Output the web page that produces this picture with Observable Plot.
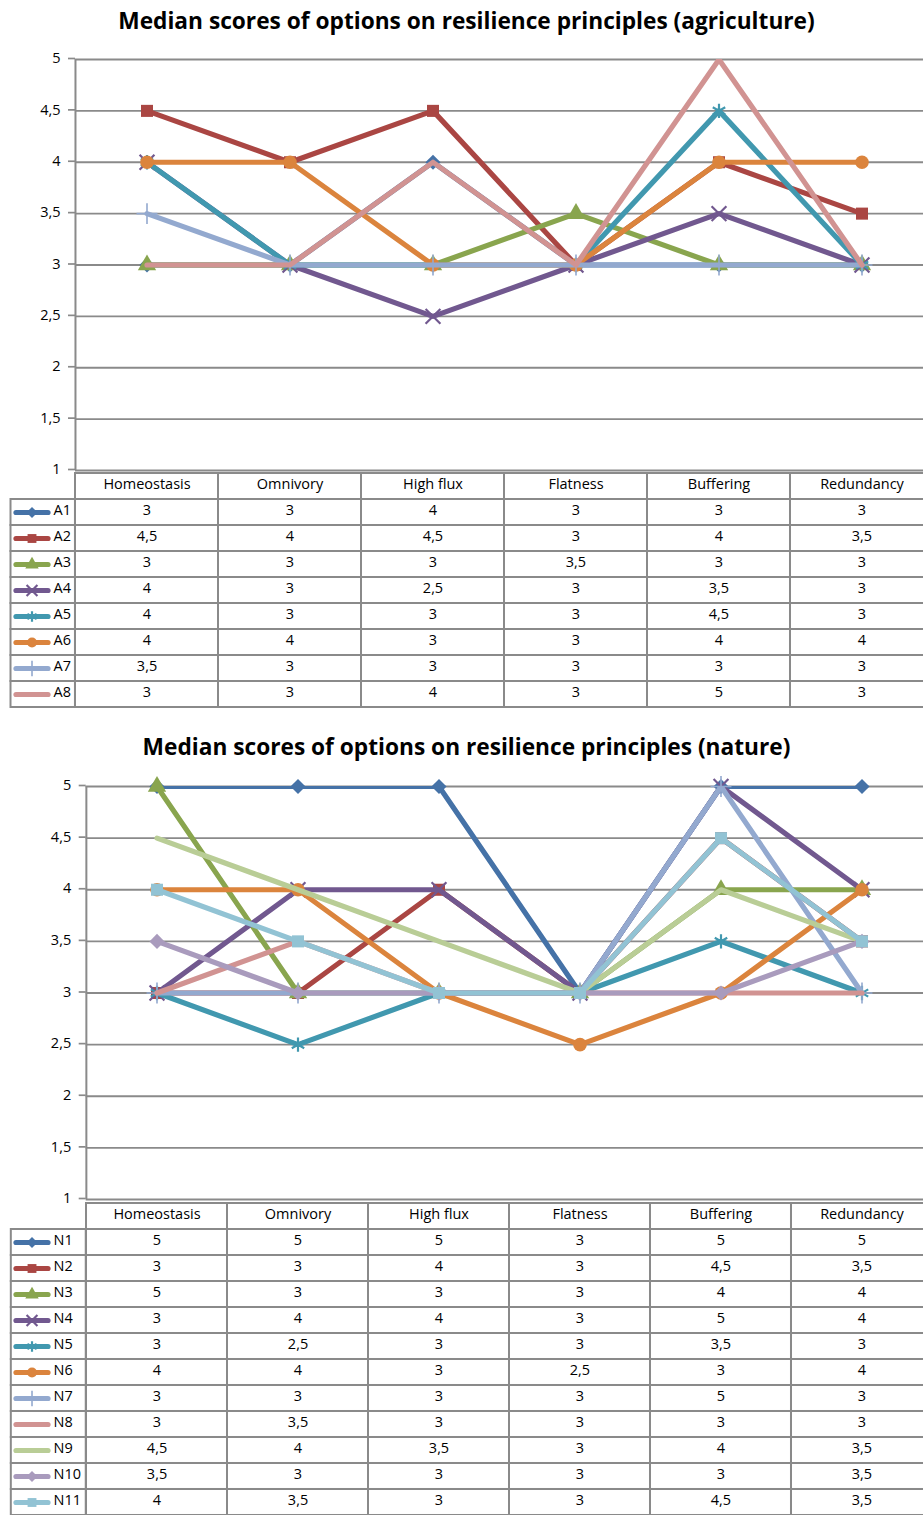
<!DOCTYPE html>
<html>
<head>
<meta charset="utf-8">
<script src="https://cdn.jsdelivr.net/npm/d3@7"></script>
<script src="https://cdn.jsdelivr.net/npm/@observablehq/plot@0.6"></script>
<style>
  html, body { margin: 0; padding: 0; background: #fff; overflow: hidden; }
  #root { position: relative; width: 923px; height: 1515px; overflow: hidden; background: #fff; font-family: "Open Sans", sans-serif; }
  .title { position: absolute; left: 0; width: 933px; height: 30px; line-height: 30px; text-align: center; font-weight: bold; font-size: 22.7px; color: #000; white-space: nowrap; }
  .abs { position: absolute; left: 0; }
</style>
</head>
<body>
<div id="root"></div>
<script>
// ---------- data ----------
const categories = ["Homeostasis", "Omnivory", "High flux", "Flatness", "Buffering", "Redundancy"];
const yTicks = [1, 1.5, 2, 2.5, 3, 3.5, 4, 4.5, 5];

const agriNames = ["A1", "A2", "A3", "A4", "A5", "A6", "A7", "A8"];
const A1 = [3, 3, 4, 3, 3, 3];
const A2 = [4.5, 4, 4.5, 3, 4, 3.5];
const A3 = [3, 3, 3, 3.5, 3, 3];
const A4 = [4, 3, 2.5, 3, 3.5, 3];
const A5 = [4, 3, 3, 3, 4.5, 3];
const A6 = [4, 4, 3, 3, 4, 4];
const A7 = [3.5, 3, 3, 3, 3, 3];
const A8 = [3, 3, 4, 3, 5, 3];

const natureNames = ["N1", "N2", "N3", "N4", "N5", "N6", "N7", "N8", "N9", "N10", "N11"];
const N1 = [5, 5, 5, 3, 5, 5];
const N2 = [3, 3, 4, 3, 4.5, 3.5];
const N3 = [5, 3, 3, 3, 4, 4];
const N4 = [3, 4, 4, 3, 5, 4];
const N5 = [3, 2.5, 3, 3, 3.5, 3];
const N6 = [4, 4, 3, 2.5, 3, 4];
const N7 = [3, 3, 3, 3, 5, 3];
const N8 = [3, 3.5, 3, 3, 3, 3];
const N9 = [4.5, 4, 3.5, 3, 4, 3.5];
const N10 = [3.5, 3, 3, 3, 3, 3.5];
const N11 = [4, 3.5, 3, 3, 4.5, 3.5];

const seriesColors = ["#4572A7", "#AA4643", "#89A54E", "#71588F", "#4198AF", "#DB843D",
                      "#93A9CF", "#D19392", "#B9CD96", "#A99BBD", "#92C3D4"];
const seriesSymbols = ["diamond2", "square", "triangle", "times", "asterisk", "circle",
                       "plus", null, null, "diamond2", "square"];

const titles = ["Median scores of options on resilience principles (agriculture)",
                "Median scores of options on resilience principles (nature)"];

// ---------- helpers ----------
const fmt = v => String(v).replace(".", ",");
const gridColor = "#8a8a8a";
const strokeSymbols = new Set(["times", "asterisk", "plus"]);
const keyLine = { draw(ctx) {
  const hw = 16, r = 2.6;
  ctx.moveTo(-hw, -r); ctx.lineTo(hw, -r);
  ctx.arc(hw, 0, r, -Math.PI / 2, Math.PI / 2);
  ctx.lineTo(-hw, r);
  ctx.arc(-hw, 0, r, Math.PI / 2, 3 * Math.PI / 2);
  ctx.closePath();
} };

function markerOpts(i, r) {
  const sym = seriesSymbols[i];
  if (!sym) return null;
  if (strokeSymbols.has(sym)) return { symbol: sym, stroke: seriesColors[i], fill: "none", strokeWidth: sym === "plus" ? 1.6 : 2.2, r: r };
  return { symbol: sym, fill: seriesColors[i], r: r };
}

const root = document.getElementById("root");
const fontStyle = { fontFamily: "'Open Sans', sans-serif", fontSize: "14.5px", background: "transparent", overflow: "visible", color: "#000" };

function buildChart(cfg) {
  const { title, titleTop, names, values, left, svgTop, yTop, yBottom, labelDx, keyDx, legendLeft } = cfg;
  const right = 933.3;
  const bw = (right - left) / categories.length;
  const W = 923;

  // title
  const t = document.createElement("div");
  t.className = "title";
  t.style.top = titleTop + "px";
  t.textContent = title;
  root.appendChild(t);

  const rows = names.map((n, i) => categories.map((c, j) => ({ series: n, category: c, value: values[i][j] })));

  // ---- line chart ----
  const H = yBottom - svgTop + 12;
  const marks = [
    Plot.gridY(yTicks, { stroke: gridColor, strokeOpacity: 1, strokeWidth: 1.9 }),
    Plot.axisY(yTicks, { tickFormat: fmt, tickSize: 7, tickPadding: 8, stroke: gridColor, fill: "#000", strokeWidth: 1.7, label: null, fontSize: 14.5, dy: -1 }),
    Plot.ruleX([categories[0]], { x: d => d, dx: -bw / 2, stroke: gridColor, strokeWidth: 2 })
  ];
  rows.forEach((r, i) => {
    marks.push(Plot.line(r, { x: "category", y: "value", stroke: seriesColors[i], strokeWidth: 5.2, strokeLinejoin: "round", clip: true }));
    const mo = markerOpts(i, 6.8);
    if (mo) marks.push(Plot.dot(r, { x: "category", y: "value", ...mo }));
  });
  const chart = Plot.plot({
    width: W, height: H,
    marginTop: yTop - svgTop, marginBottom: H - (yBottom - svgTop), marginLeft: left, marginRight: 0,
    x: { type: "band", domain: categories, range: [left, right], padding: 0, axis: null },
    y: { domain: [1, 5], axis: null },
    style: fontStyle,
    marks
  });
  chart.classList.add("abs");
  chart.style.top = svgTop + "px";
  root.appendChild(chart);

  // ---- data table ----
  const rowH = 26.7;
  const yKeys = ["hdr", ...names];
  const TH = rowH * yKeys.length + 4;
  const flat = rows.flat();
  const tdy = -2.5;
  const tmarks = [
    Plot.cell(categories, { x: d => d, y: () => "hdr", stroke: gridColor, strokeWidth: 2, fill: "none", inset: 0 }),
    Plot.cell(flat, { x: "category", y: "series", stroke: gridColor, strokeWidth: 2, fill: "none", inset: 0 }),
    Plot.cell(names, { x: () => categories[0], y: d => d, stroke: gridColor, strokeWidth: 2, fill: "none",
                       insetLeft: -(left - legendLeft), insetRight: bw, insetTop: 0, insetBottom: 0 }),
    Plot.text(categories, { x: d => d, y: () => "hdr", text: d => d, fill: "#000", dy: tdy }),
    Plot.text(flat, { x: "category", y: "series", text: d => fmt(d.value), fill: "#000", dy: tdy }),
    Plot.text(names, { y: d => d, frameAnchor: "left", dx: labelDx, textAnchor: "start", text: d => d, fill: "#000", dy: tdy })
  ];
  names.forEach((n, i) => {
    tmarks.push(Plot.dot([n], { y: d => d, frameAnchor: "left", dx: keyDx, symbol: keyLine, fill: seriesColors[i], r: 5 }));
    const mo = markerOpts(i, 5);
    if (mo) tmarks.push(Plot.dot([n], { y: d => d, frameAnchor: "left", dx: keyDx, ...mo }));
  });
  const table = Plot.plot({
    width: W, height: TH,
    marginTop: 1, marginBottom: 3, marginLeft: left, marginRight: 0,
    x: { type: "band", domain: categories, range: [left, right], padding: 0, axis: null },
    y: { type: "band", domain: yKeys, range: [1, 1 + rowH * yKeys.length], padding: 0, axis: null },
    style: fontStyle,
    marks: tmarks
  });
  table.classList.add("abs");
  table.style.top = (yBottom - 1) + "px";
  root.appendChild(table);
}

buildChart({
  title: titles[0], titleTop: 6,
  names: agriNames, values: [A1, A2, A3, A4, A5, A6, A7, A8],
  left: 75, svgTop: 40, yTop: 59, yBottom: 470,
  labelDx: -22, keyDx: -43.5, legendLeft: 10.5
});
buildChart({
  title: titles[1], titleTop: 732,
  names: natureNames, values: [N1, N2, N3, N4, N5, N6, N7, N8, N9, N10, N11],
  left: 85.7, svgTop: 766, yTop: 786, yBottom: 1199,
  labelDx: -32.7, keyDx: -54.2, legendLeft: 10.5
});
</script>
</body>
</html>
